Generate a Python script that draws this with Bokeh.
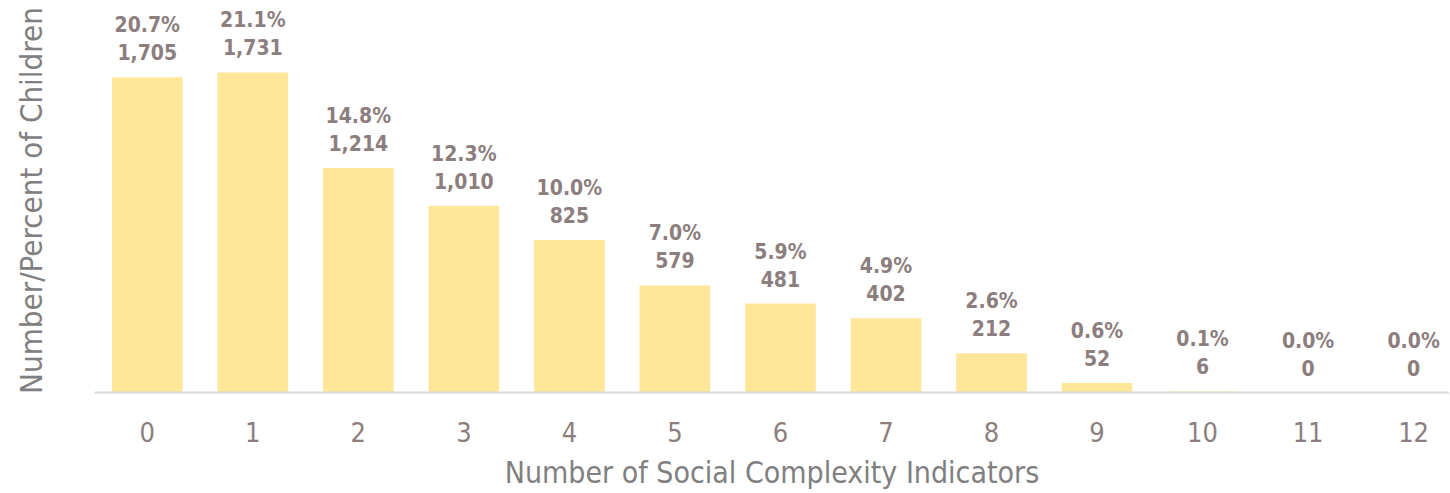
from bokeh.plotting import figure
from bokeh.models import ColumnDataSource, FixedTicker, Range1d
from bokeh.core.properties import value
from bokeh.embed import file_html
from bokeh.resources import INLINE

categories = [0, 1, 2, 3, 4, 5, 6, 7, 8, 9, 10, 11, 12]
counts = [1705, 1731, 1214, 1010, 825, 579, 481, 402, 212, 52, 6, 0, 0]
percents = ["20.7%", "21.1%", "14.8%", "12.3%", "10.0%", "7.0%", "5.9%", "4.9%", "2.6%", "0.6%", "0.1%", "0.0%", "0.0%"]
count_labels = [f"{c:,}" for c in counts]

FONT = "'DejaVu Sans Condensed', 'Roboto', sans-serif"
LABEL_COLOR = "#8c7e7e"

src = ColumnDataSource(dict(x=categories, top=counts, pct=percents, cnt=count_labels))

p = figure(frame_width=1355, frame_height=384, output_backend="svg", toolbar_location=None,
           x_range=Range1d(-0.5, 12.34), y_range=Range1d(0, 2077),
           min_border_left=94, min_border_right=0, min_border_top=8, min_border_bottom=0)
p.outline_line_color = None
p.grid.grid_line_color = None
p.background_fill_color = None
p.border_fill_color = "white"

p.vbar(x="x", top="top", width=0.67, bottom=0, source=src, fill_color="#ffe699", line_color=None)

p.text(x="x", y="top", text="cnt", source=src, y_offset=-25, text_align="center",
       text_baseline="middle", text_font=value(FONT), text_font_size="21px",
       text_font_style="bold", text_color=LABEL_COLOR)
p.text(x="x", y="top", text="pct", source=src, y_offset=-52, text_align="center",
       text_baseline="middle", text_font=value(FONT), text_font_size="21px",
       text_font_style="bold", text_color=LABEL_COLOR)

xa = p.xaxis[0]
xa.ticker = FixedTicker(ticks=categories)
xa.axis_line_color = "#d9d9d9"
xa.axis_line_width = 2
xa.major_tick_line_color = None
xa.minor_tick_line_color = None
xa.major_label_standoff = 23
xa.major_label_text_font = FONT
xa.major_label_text_font_size = "27px"
xa.major_label_text_color = LABEL_COLOR
xa.axis_label = "Number of Social Complexity Indicators"
xa.axis_label_text_font = FONT
xa.axis_label_text_font_size = "30px"
xa.axis_label_text_font_style = "normal"
xa.axis_label_text_color = "#808080"
xa.axis_label_standoff = 10

ya = p.yaxis[0]
ya.ticker = FixedTicker(ticks=[])
ya.axis_line_color = None
ya.major_tick_line_color = None
ya.minor_tick_line_color = None
ya.axis_label = "Number/Percent of Children"
ya.axis_label_text_font = FONT
ya.axis_label_text_font_size = "31px"
ya.axis_label_text_font_style = "normal"
ya.axis_label_text_color = "#808080"
ya.axis_label_standoff = 46

open("out.html", "w").write(file_html(p, INLINE))
